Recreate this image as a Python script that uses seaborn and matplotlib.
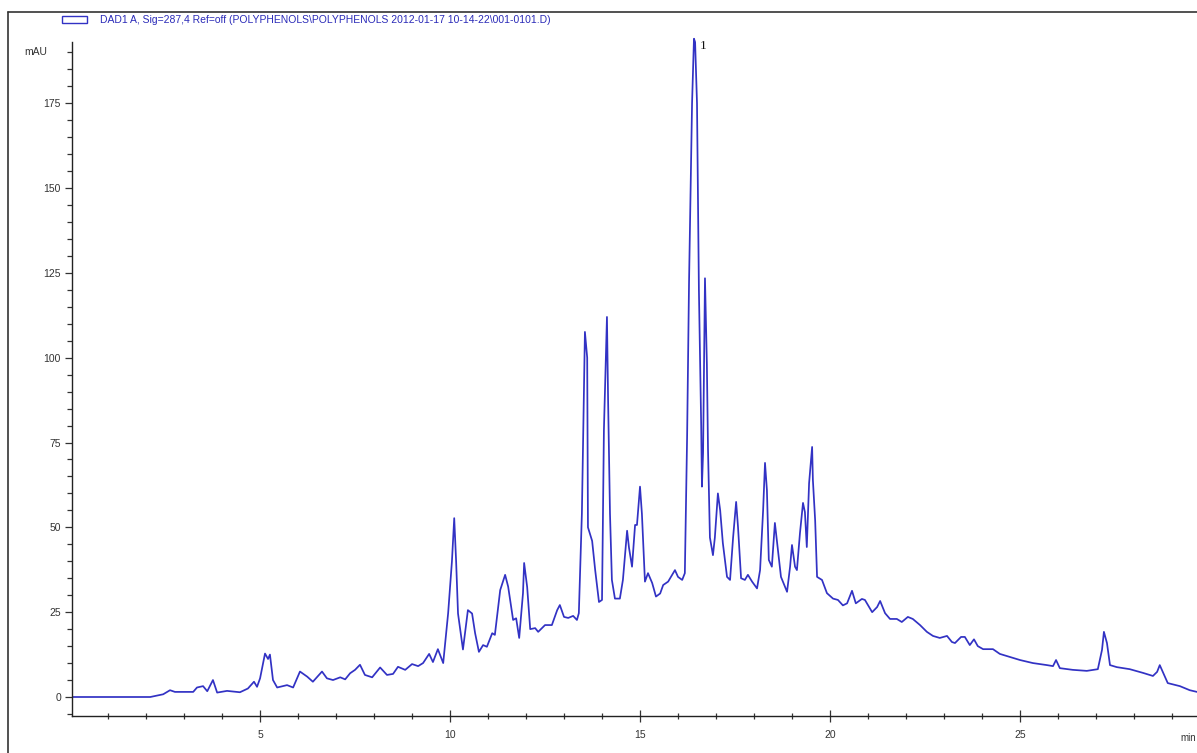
import numpy as np
import pandas as pd
from matplotlib import pyplot as plt
from matplotlib.patches import Rectangle
from matplotlib.lines import Line2D
import seaborn as sns

sns.set_style('ticks')
plt.rcParams['font.family'] = ['Liberation Sans', 'DejaVu Sans']

# retention time (min) and signal (mAU)
rt_min = [0.05, 2.11, 2.24, 2.45, 2.63, 2.76, 3.03, 3.24, 3.34, 3.50, 3.61, 3.76, 3.87,
          4.13, 4.47, 4.68, 4.84, 4.92, 5.00, 5.13, 5.21, 5.26, 5.34, 5.45, 5.71, 5.87,
          6.05, 6.24, 6.39, 6.63, 6.76, 6.92, 7.11, 7.24, 7.37, 7.50, 7.63, 7.76, 7.95,
          8.16, 8.34, 8.50, 8.63, 8.82, 9.00, 9.16, 9.29, 9.45, 9.55, 9.68, 9.82, 9.95,
          10.05, 10.11, 10.16, 10.21, 10.34, 10.47, 10.58, 10.66, 10.76, 10.87, 10.97,
          11.11, 11.18, 11.32, 11.45, 11.53, 11.66, 11.74, 11.82, 11.92, 11.95, 12.03,
          12.11, 12.24, 12.32, 12.50, 12.68, 12.82, 12.89, 13.00, 13.11, 13.24, 13.34,
          13.39, 13.47, 13.53, 13.55, 13.61, 13.63, 13.74, 13.82, 13.92, 14.00, 14.05,
          14.13, 14.16, 14.21, 14.26, 14.34, 14.47, 14.55, 14.66, 14.71, 14.79, 14.87,
          14.92, 15.00, 15.05, 15.13, 15.21, 15.32, 15.42, 15.53, 15.61, 15.74, 15.87,
          15.92, 16.00, 16.11, 16.18, 16.24, 16.29, 16.37, 16.42, 16.45, 16.50, 16.55,
          16.61, 16.63, 16.66, 16.71, 16.76, 16.79, 16.84, 16.92, 16.97, 17.05, 17.11,
          17.18, 17.29, 17.37, 17.45, 17.53, 17.58, 17.66, 17.76, 17.84, 17.95, 18.08,
          18.16, 18.24, 18.29, 18.34, 18.39, 18.47, 18.55, 18.61, 18.71, 18.76, 18.87,
          18.95, 19.00, 19.08, 19.13, 19.21, 19.29, 19.34, 19.39, 19.45, 19.53, 19.55,
          19.61, 19.66, 19.79, 19.92, 20.08, 20.21, 20.34, 20.45, 20.58, 20.68, 20.84,
          20.92, 21.11, 21.24, 21.32, 21.45, 21.58, 21.76, 21.89, 22.05, 22.18, 22.37,
          22.55, 22.71, 22.89, 23.08, 23.21, 23.29, 23.45, 23.55, 23.68, 23.79, 23.89,
          24.03, 24.29, 24.47, 24.74, 25.00, 25.34, 25.71, 25.87, 25.95, 26.05, 26.39,
          26.76, 27.05, 27.16, 27.21, 27.29, 27.37, 27.55, 27.89, 28.24, 28.50, 28.61,
          28.68, 28.76, 28.89, 29.21, 29.47, 29.66]
mau = [0, 0, 0.3, 0.8, 2.0, 1.5, 1.5, 1.5, 2.8, 3.2, 1.7, 5.0, 1.3,
       1.8, 1.4, 2.5, 4.5, 3.0, 5.5, 12.8, 11.2, 12.5, 5.0, 2.8, 3.5, 2.8,
       7.5, 6.0, 4.5, 7.5, 5.5, 5.0, 5.8, 5.2, 7.0, 8.0, 9.5, 6.5, 5.8,
       8.7, 6.5, 6.8, 8.9, 8.0, 9.7, 9.1, 10.0, 12.7, 10.3, 14.1, 10.0, 24.7,
       40, 52.7, 40, 24.6, 14, 25.6, 24.6, 18.8, 13.3, 15.3, 14.8,
       18.8, 18.3, 31.5, 36, 32.5, 22.7, 23.2, 17.4, 30.6, 39.5, 32.4,
       20, 20.3, 19.2, 21.2, 21.2, 25.6, 27.1, 23.6, 23.3, 23.9, 22.7,
       24.7, 54, 93, 107.6, 100, 50, 46, 37.4, 28, 28.6, 78.7,
       112, 87.5, 54, 34.5, 29, 29, 34.5, 49, 44, 38.4, 50.7,
       50.7, 62, 54, 34, 36.5, 33.6, 29.6, 30.5, 33, 34, 36.5,
       37.4, 35.4, 34.5, 36.5, 77, 122, 175, 194, 193, 175, 120,
       80, 62, 72, 123.4, 98, 72.8, 47, 41.8, 47, 60, 55,
       45.4, 35.4, 34.5, 47, 57.5, 50, 35, 34.5, 36, 34, 32,
       37.4, 55, 69, 61, 40.4, 38.4, 51.3, 45.4, 35.4, 34, 31,
       38.4, 44.8, 38.4, 37.4, 48.3, 57.2, 54.5, 44.2, 63, 73.7, 64,
       52, 35.4, 34.5, 30.6, 29, 28.6, 27, 27.6, 31.3, 27.6, 28.9,
       28.6, 25, 26.5, 28.3, 24.7, 23, 23, 22.1, 23.6, 23, 21.2,
       19.2, 18, 17.4, 18, 16.2, 15.9, 17.7, 17.7, 15.3, 17, 15,
       14.1, 14.1, 12.7, 11.8, 10.9, 10, 9.4, 9.1, 10.9, 8.5, 8,
       7.7, 8.2, 13.9, 19.2, 15.9, 9.4, 8.8, 8.2, 7.1, 6.2, 7.4,
       9.4, 7.4, 4.1, 3.2, 2, 1.5]

signal_name = 'DAD1 A, Sig=287,4 Ref=off (POLYPHENOLS\\POLYPHENOLS 2012-01-17 10-14-22\\001-0101.D)'
peak_rt = 16.58
peak_label = '1'

df = pd.DataFrame({'rt': rt_min, 'mau': mau})

line_col = '#3232c4'
W, H = 1197, 753
fig = plt.figure(figsize=(W / 100, H / 100), dpi=100)
ax = fig.add_axes([72 / W, 1 - 716 / H, 1 - 72 / W, (716 - 36) / H])

sns.lineplot(data=df, x='rt', y='mau', ax=ax, color=line_col, linewidth=1.25,
             estimator=None, sort=False)

ax.set_xlim(0.05, 29.66)
ax.set_ylim(-5.6, 194.8)
ax.set_xlabel('')
ax.set_ylabel('')

ax.set_xticks([5, 10, 15, 20, 25])
ax.set_xticks(np.arange(1, 30), minor=True)
ax.set_yticks(np.arange(0, 176, 25))
ax.set_yticks(np.arange(-5, 191, 5), minor=True)

for s in ['top', 'right']:
    ax.spines[s].set_visible(False)
for s in ['left', 'bottom']:
    ax.spines[s].set_color('#222222')
    ax.spines[s].set_linewidth(1.0)
ax.spines['left'].set_bounds(-5.6, 193)

ax.tick_params(axis='y', which='major', direction='out', length=5, width=0.9,
               colors='#333333', labelsize=7.5, pad=3)
ax.tick_params(axis='y', which='minor', direction='out', length=3.5, width=0.9, colors='#333333')
ax.tick_params(axis='x', which='major', direction='inout', length=8, width=0.9,
               colors='#333333', labelsize=7.5, pad=6)
ax.tick_params(axis='x', which='minor', direction='inout', length=5, width=0.9, colors='#333333')

ax.text(-0.6, 190, 'mAU', ha='right', va='center', fontsize=7.5, color='#333333')
ax.text(peak_rt, 192, peak_label, ha='left', va='center', fontsize=9.5,
        family=['Liberation Serif', 'DejaVu Serif'], color='#111111')
fig.text(1196 / W, 1 - 738 / H, 'min', ha='right', va='center', fontsize=7, color='#333333')

# signal legend above the plot
leg_handle = Rectangle((0, 0), 1, 1, facecolor='white', edgecolor=line_col, linewidth=1.0)
leg = fig.legend([leg_handle], [signal_name], loc='center left',
                 bbox_to_anchor=(58 / W, 1 - 20 / H), frameon=False,
                 fontsize=7.5, handlelength=2.4, handleheight=0.7, handletextpad=1.2,
                 borderaxespad=0)
for t in leg.get_texts():
    t.set_color('#2a2ab8')

# outer frame of the report page
fig.add_artist(Line2D([8 / W, 1], [1 - 12 / H, 1 - 12 / H], color='#333333', linewidth=1.2))
fig.add_artist(Line2D([8 / W, 8 / W], [0, 1 - 12 / H], color='#333333', linewidth=1.2))

fig.savefig('out.png', dpi=100, facecolor='white')
